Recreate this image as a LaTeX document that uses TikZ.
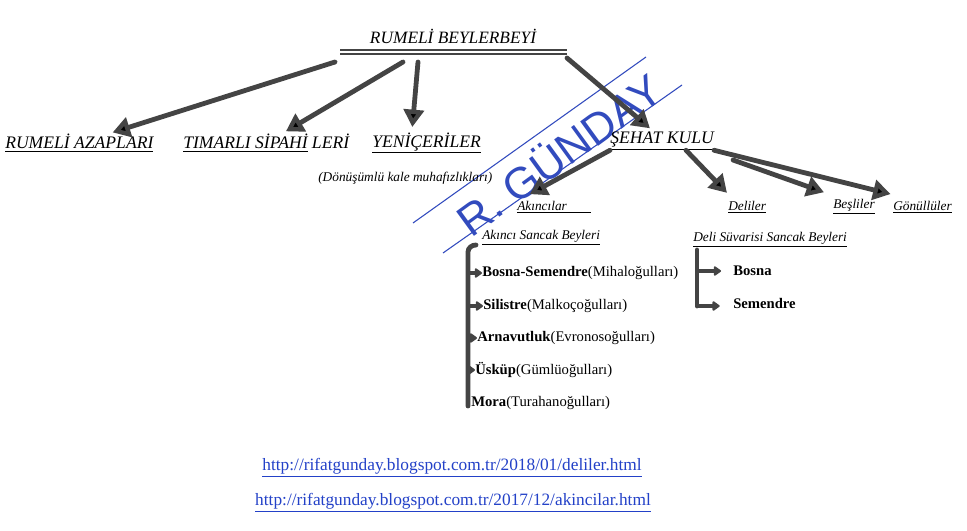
\documentclass[tikz,border=0pt]{standalone}
\usepackage{fontspec}
\setmainfont{Liberation Serif}
\setsansfont{Liberation Sans}
\usetikzlibrary{arrows.meta,positioning}
\definecolor{ink}{RGB}{68,68,68}
\definecolor{stampblue}{RGB}{50,75,190}
\definecolor{linkblue}{RGB}{35,65,200}

\begin{document}
\begin{tikzpicture}[x=0.75pt, y=-0.75pt, >={Triangle[length=13pt,width=15pt]},
    head/.style={font=\itshape\fontsize{13.2}{15}\selectfont, inner sep=0pt, anchor=west},
    sub/.style={font=\itshape\fontsize{10}{12}\selectfont, inner sep=0pt, anchor=west},
    item/.style={font=\fontsize{11}{13}\selectfont, inner sep=0pt, anchor=west},
    link/.style={font=\fontsize{13}{15}\selectfont, text=linkblue, inner sep=0pt},
    bigarrow/.style={draw=ink, line width=3.6pt, line cap=round, shorten >=4pt,
      every edge/.append style={->}},
    spine/.style={draw=ink, line width=3.6pt, line cap=round},
    stub/.style={-{Triangle[length=6pt,width=8pt,round]}, draw=ink, line width=3pt},
    stampline/.style={draw=stampblue, line width=0.8pt},
    stamp/.style={font=\sffamily\fontsize{33}{36}\selectfont, text=stampblue, inner sep=0pt}]

  \fill[white] (0,0) rectangle (967,531);
  \useasboundingbox (0,0) rectangle (967,531);

  % stamp
  \draw[stampline] (413,223) -- (646,57);
  \draw[stampline] (443,253) -- (682,85);
  \node[stamp, rotate=36] (stamp) at (558,153) {R. GÜNDAY};

  % beylerbeyi
  \node[font=\itshape\fontsize{13}{15}\selectfont, inner sep=0pt] (rb) at (453,36) {RUMELİ BEYLERBEYİ};
  \coordinate (barL) at (340,52);
  \coordinate (barR) at (567,52);
  \draw[draw=ink, line width=2pt, double=white, double distance=1pt] (barL) -- (barR);

  \node[head] (azap) at (5,143) {\underline{RUMELİ AZAPLARI}};
  \node[head] (timar) at (183,143) {\underline{TIMARLI SİPAHİ} LERİ};
  \node[head] (yeni) at (372,143) {\underline{YENİÇERİLER}};
  \node[sub] (donus) at (318,178) {(Dönüşümlü kale muhafızlıkları)};
  \node[head] (sehat) at (610,141) {\underline{ŞEHAT KULU}};

  \coordinate (b1) at (335,62);
  \coordinate (b2) at (403,62);
  \coordinate (b3) at (418,62);
  \coordinate (b4) at (567,58);
  \path[bigarrow]
    (b1) edge (azap)
    (b2) edge (timar)
    (b3) edge ([xshift=-11pt]yeni.north)
    (b4) edge ([xshift=-6pt]sehat.north);

  % sehat kulu
  \node[sub] (akinci) at (517,207) {\underline{Akıncılar\hspace{18pt}}};
  \node[sub] (deli) at (728,207) {\underline{Deliler}};
  \node[sub] (besli) at (833,207) {\underline{Beşliler}};
  \node[sub] (gonul) at (893,207) {\underline{Gönüllüler}};

  \coordinate (s3) at (733,160);
  \path[bigarrow]
    (sehat.south west) edge ([xshift=6pt,yshift=3pt]akinci.north west)
    ([xshift=-21pt]sehat.south east) edge ([xshift=2pt,yshift=3pt]deli.north west)
    (s3) edge ([xshift=-3pt,yshift=4pt]besli.north west)
    (sehat.south east) edge ([xshift=2pt,yshift=4pt]gonul.north west);

  % akinci sancak beyleri
  \node[sub] (aksb) at (482,238) {\underline{Akıncı Sancak Beyleri}};
  \node[item] (bosem) at (482,273) {\textbf{Bosna-Semendre}(Mihaloğulları)};
  \node[item] (silis) at (483,306) {\textbf{Silistre}(Malkoçoğulları)};
  \node[item] (arna) at (477,338) {\textbf{Arnavutluk}(Evronosoğulları)};
  \node[item] (uskup) at (475,370) {\textbf{Üsküp}(Gümlüoğulları)};
  \node[item] (mora) at (471,403) {\textbf{Mora}(Turahanoğulları)};
  \coordinate (aksp) at (468,252);
  \coordinate (akbot) at (468,406);
  \draw[spine] (476,245) to[out=180,in=90] (aksp) -- (akbot);
  \foreach \n in {bosem,silis,arna,uskup}
    \draw[stub] (aksp |- \n.west) -- (\n.west);

  % deli suvarisi
  \node[sub] (dssb) at (693,240) {\underline{Deli Süvarisi Sancak Beyleri}};
  \node[item] (dbosna) at (733,271) {\textbf{Bosna}};
  \node[item] (dsem) at (733,303) {\textbf{Semendre}};
  \coordinate (dsp) at (697,250);
  \coordinate (dbot) at (697,306);
  \draw[spine] (dsp) -- (dbot);
  \draw[stub, shorten >=9pt] (dsp |- dbosna.west) -- (dbosna.west);
  \draw[stub, shorten >=10pt] (dbot) -- (dbot -| dsem.west);

  % links
  \node[link] (url1) at (452,468) {\underline{http://rifatgunday.blogspot.com.tr/2018/01/deliler.html}};
  \node[link] (url2) at (453,503) {\underline{http://rifatgunday.blogspot.com.tr/2017/12/akincilar.html}};
\end{tikzpicture}
\end{document}
